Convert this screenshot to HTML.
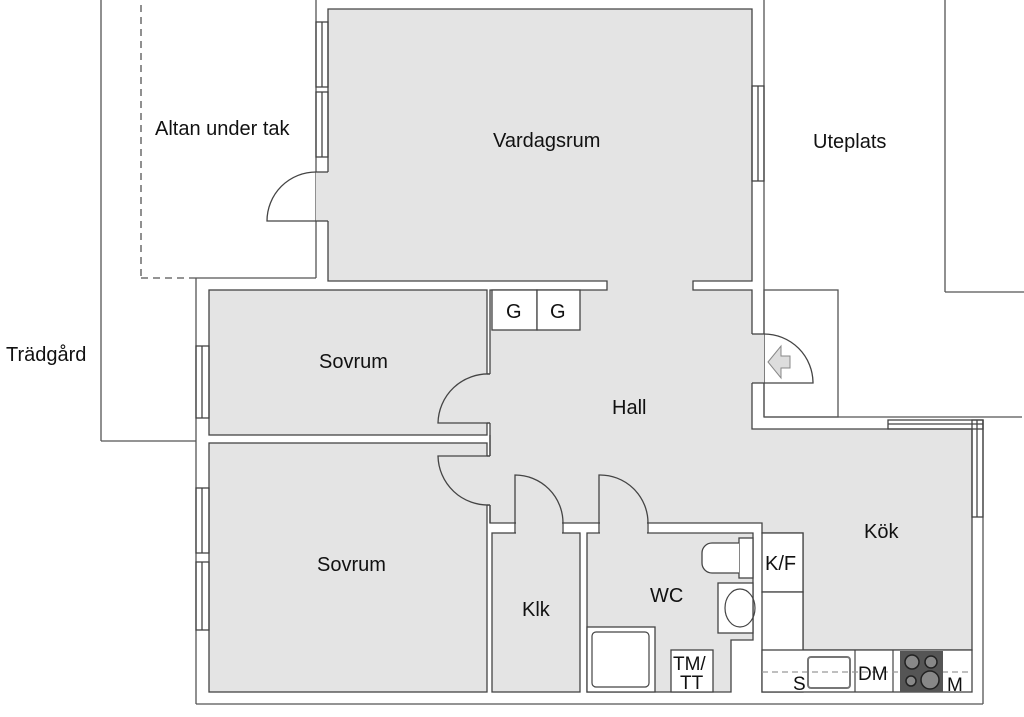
<!DOCTYPE html>
<html><head><meta charset="utf-8"><style>
html,body{margin:0;padding:0;background:#fff;}
svg{display:block;}
text{font-family:"Liberation Sans",sans-serif;font-size:20px;fill:#111;}
</style></head><body>
<svg width="1024" height="717" viewBox="0 0 1024 717" xmlns="http://www.w3.org/2000/svg">
<g stroke="#555" stroke-width="1.3" fill="none">
<line x1="101" y1="0" x2="101" y2="441"/>
<line x1="101" y1="441" x2="196" y2="441"/>
<line x1="141" y1="5" x2="141" y2="278" stroke-dasharray="7,5"/>
<line x1="141" y1="278" x2="196" y2="278" stroke-dasharray="7,5"/>
<line x1="196" y1="278" x2="316" y2="278"/>
<line x1="316" y1="0" x2="316" y2="278"/>
<line x1="196" y1="278" x2="196" y2="704"/>
<line x1="196" y1="704" x2="983" y2="704"/>
<line x1="983" y1="420" x2="983" y2="704"/>
<line x1="764" y1="0" x2="764" y2="417"/>
<line x1="945" y1="0" x2="945" y2="292"/>
<line x1="945" y1="292" x2="1024" y2="292"/>
<line x1="764" y1="417" x2="1022" y2="417"/>
<rect x="764" y="290" width="74" height="127"/>
</g>
<g fill="#e4e4e4" stroke="#444" stroke-width="1.3">
<polygon points="328,9 752,9 752,281 693,281 693,290 752,290 752,429 972,429 972,650 803,650 803,533 762,533 762,523 490,523 490,290 607,290 607,281 328,281"/>
<rect x="209" y="290" width="278" height="145"/>
<rect x="209" y="443" width="278" height="249"/>
<rect x="492" y="533" width="88" height="159"/>
<polygon points="587,533 753,533 753,640 731,640 731,692 587,692"/>
</g>
<g fill="#e4e4e4">
<rect x="486" y="374" width="6" height="49"/>
<rect x="486" y="456" width="6" height="49"/>
<rect x="516" y="522" width="46" height="12"/>
<rect x="600" y="522" width="47" height="12"/>
<rect x="751" y="334" width="13" height="49"/>
<rect x="316" y="172" width="13" height="49"/>
<rect x="608" y="280" width="84" height="11"/>
</g>
<g stroke="#444" stroke-width="1.3" fill="none">
<!-- gap edges -->
<line x1="487" y1="374" x2="490" y2="374"/><line x1="487" y1="423" x2="490" y2="423"/>
<line x1="487" y1="456" x2="490" y2="456"/><line x1="487" y1="505" x2="490" y2="505"/>
<line x1="490" y1="435" x2="490" y2="456"/>
<line x1="490" y1="505" x2="490" y2="523"/>
<line x1="563" y1="523" x2="563" y2="533"/><line x1="515" y1="523" x2="515" y2="533"/>
<line x1="648" y1="523" x2="648" y2="533"/><line x1="599" y1="523" x2="599" y2="533"/>
<line x1="752" y1="334" x2="764" y2="334"/><line x1="752" y1="383" x2="764" y2="383"/>
<line x1="316" y1="172" x2="328" y2="172"/><line x1="316" y1="221" x2="328" y2="221"/>
<!-- doors -->
<path d="M490,374 A50,50 0 0 0 438,423 L490,423"/>
<path d="M490,505 A50,50 0 0 1 438,456 L490,456"/>
<path d="M515,523 L515,475 A48,48 0 0 1 563,523"/>
<path d="M599,523 L599,475 A48,48 0 0 1 648,523"/>
<path d="M764,334 A49,49 0 0 1 813,383 L764,383"/>
<path d="M316,172 A49,49 0 0 0 267,221 L316,221"/>
<!-- windows -->
<rect x="316" y="22" width="12" height="65"/><line x1="322" y1="22" x2="322" y2="87"/>
<rect x="316" y="92" width="12" height="65"/><line x1="322" y1="92" x2="322" y2="157"/>
<rect x="752" y="86" width="12" height="95"/><line x1="758" y1="86" x2="758" y2="181"/>
<rect x="196" y="346" width="13" height="72"/><line x1="202" y1="346" x2="202" y2="418"/>
<rect x="196" y="488" width="13" height="65"/><line x1="202" y1="488" x2="202" y2="553"/>
<rect x="196" y="562" width="13" height="68"/><line x1="202" y1="562" x2="202" y2="630"/>
<rect x="888" y="420" width="95" height="9"/><line x1="888" y1="424" x2="983" y2="424"/>
<rect x="972" y="420" width="11" height="97"/><line x1="977" y1="420" x2="977" y2="517"/>
</g>
<polygon points="768,362 781,346 781,356 790,356 790,368 781,368 781,378" fill="#ddd" stroke="#888" stroke-width="1"/>
<g fill="#fff" stroke="#444" stroke-width="1.3">
<rect x="492" y="290" width="45" height="40"/>
<rect x="537" y="290" width="43" height="40"/>
<rect x="762" y="533" width="41" height="59"/>
<rect x="762" y="592" width="41" height="100"/>
<rect x="762" y="650" width="210" height="42"/>
<rect x="587" y="627" width="68" height="65"/>
<rect x="671" y="650" width="42" height="42"/>
<rect x="718" y="583" width="35" height="50"/>
<rect x="739" y="538" width="14" height="40"/>
<path d="M739,543 L712,543 A10,10 0 0 0 702,553 L702,563 A10,10 0 0 0 712,573 L739,573"/>
</g>
<g stroke="#444" stroke-width="1.2" fill="none">
<rect x="592" y="632" width="57" height="55" rx="4"/>
<ellipse cx="740" cy="608" rx="15" ry="19"/>
<line x1="855" y1="650" x2="855" y2="692"/>
<line x1="893" y1="650" x2="893" y2="692"/>
<line x1="762" y1="672" x2="972" y2="672" stroke="#999" stroke-dasharray="6,4"/>
<rect x="808" y="657" width="42" height="31" rx="3" stroke="#777" stroke-width="2"/>
</g>
<rect x="900" y="651" width="43" height="41" fill="#555"/>
<g fill="#888" stroke="#222" stroke-width="1.5">
<circle cx="912" cy="662" r="7"/><circle cx="931" cy="662" r="6"/>
<circle cx="911" cy="681" r="5"/><circle cx="930" cy="680" r="9"/>
</g>
<text x="155" y="135">Altan under tak</text>
<text x="493" y="147">Vardagsrum</text>
<text x="813" y="148">Uteplats</text>
<text x="6" y="361">Trädgård</text>
<text x="319" y="368">Sovrum</text>
<text x="612" y="414">Hall</text>
<text x="317" y="571">Sovrum</text>
<text x="864" y="538">Kök</text>
<text x="765" y="570">K/F</text>
<text x="650" y="602">WC</text>
<text x="522" y="616">Klk</text>
<text x="673" y="670" style="font-size:19px">TM/</text>
<text x="680" y="689" style="font-size:19px">TT</text>
<text x="858" y="680" style="font-size:19px">DM</text>
<text x="793" y="690" style="font-size:19px">S</text>
<text x="947" y="691" style="font-size:19px">M</text>
<text x="506" y="318">G</text>
<text x="550" y="318">G</text>
</svg>
</body></html>
